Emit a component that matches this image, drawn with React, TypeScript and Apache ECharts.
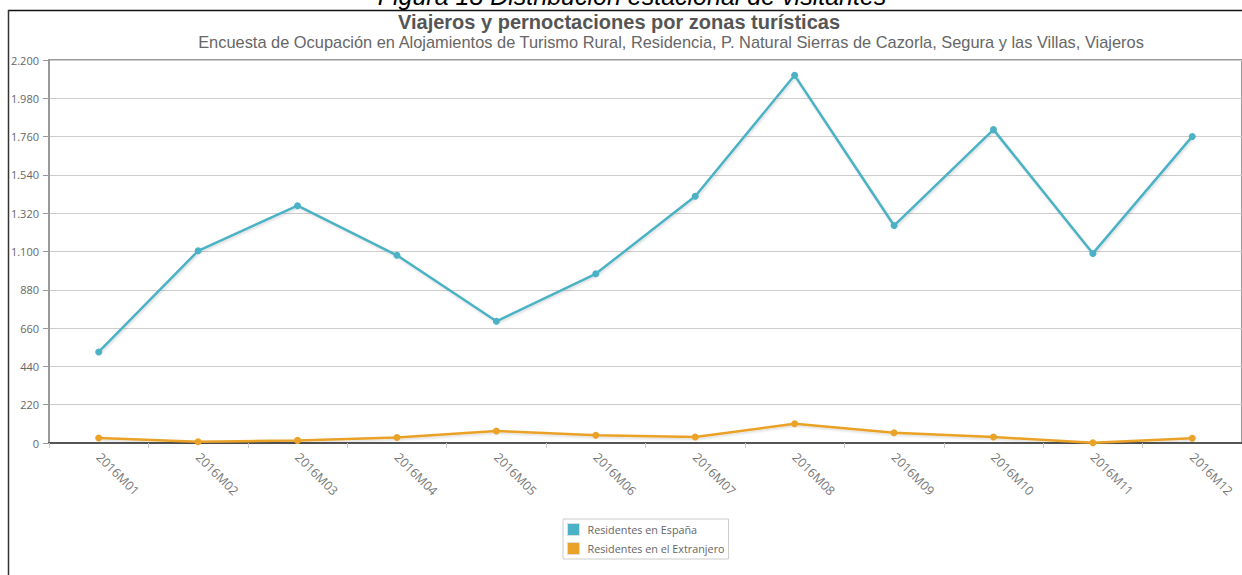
import React, { useEffect, useRef } from "react";
import * as echarts from "echarts";

const categories = [
  "2016M01", "2016M02", "2016M03", "2016M04", "2016M05", "2016M06",
  "2016M07", "2016M08", "2016M09", "2016M10", "2016M11", "2016M12",
];
const residentesEspana = [523, 1104, 1363, 1078, 699, 972, 1417, 2112, 1249, 1800, 1089, 1761];
const residentesExtranjero = [29, 7, 15, 32, 69, 44, 34, 111, 59, 34, 1, 27];
const seriesNames = ["Residentes en España", "Residentes en el Extranjero"];
const seriesColors = ["#4bb2c5", "#EAA228"];
const captionText = "Figura 18 Distribución estacional de visitantes";
const titleText = "Viajeros y pernoctaciones por zonas turísticas";
const subtitleText =
  "Encuesta de Ocupación en Alojamientos de Turismo Rural, Residencia, P. Natural Sierras de Cazorla, Segura y las Villas, Viajeros";

const fmt = (v: number) => String(v).replace(/\B(?=(\d{3})+(?!\d))/g, ".");

export default function App() {
  const ref = useRef<HTMLDivElement>(null);
  useEffect(() => {
    if (!ref.current) return;
    const chart = echarts.init(ref.current, undefined, { renderer: "svg" });
    const lineShadow = {
      shadowColor: "rgba(0,0,0,0.15)",
      shadowBlur: 2,
      shadowOffsetX: 1,
      shadowOffsetY: 1.5,
    };
    chart.setOption({
      animation: false,
      backgroundColor: "#ffffff",
      title: [
        {
          text: titleText,
          left: 614,
          top: 7,
          textAlign: "center",
          textStyle: { fontFamily: "Liberation Sans", fontSize: 20, fontWeight: "bold", color: "#555555" },
        },
        {
          text: subtitleText,
          left: 666,
          top: 29,
          textAlign: "center",
          textStyle: { fontFamily: "Liberation Sans", fontSize: 16.4, fontWeight: "normal", color: "#666666" },
        },
      ],
      legend: {
        orient: "vertical",
        left: 563,
        top: 519,
        padding: [4, 4, 4, 4],
        itemGap: 6,
        itemWidth: 12,
        itemHeight: 12,
        icon: "rect",
        borderColor: "#cccccc",
        borderWidth: 1,
        backgroundColor: "#ffffff",
        itemStyle: { borderColor: "#dddddd", borderWidth: 1 },
        textStyle: { fontFamily: "Open Sans", fontSize: 10.8, color: "#666666", padding: [0, 0, 0, 3] },
        data: seriesNames,
      },
      grid: {
        left: 49,
        top: 60,
        width: 1200,
        height: 383,
        show: true,
        borderColor: "#999999",
        borderWidth: 2,
        backgroundColor: "transparent",
      },
      xAxis: {
        type: "category",
        data: categories,
        boundaryGap: true,
        axisLine: { lineStyle: { color: "#555555", width: 2 } },
        axisTick: { show: true, length: 5, lineStyle: { color: "#cccccc" } },
        axisLabel: {
          rotate: -45,
          margin: 12,
          interval: 0,
          fontFamily: "Open Sans",
          fontSize: 12.5,
          color: "#777777",
        },
        splitLine: { show: false },
      },
      yAxis: {
        type: "value",
        min: 0,
        max: 2200,
        interval: 220,
        axisLine: { show: true, lineStyle: { color: "#999999", width: 2 } },
        axisTick: { show: true, length: 6, lineStyle: { color: "#999999" } },
        axisLabel: {
          margin: 10,
          fontFamily: "Open Sans",
          fontSize: 11,
          color: "#666666",
          formatter: (v: number) => fmt(v),
        },
        splitLine: { show: true, lineStyle: { color: "#cccccc", width: 1 } },
      },
      series: [
        {
          name: seriesNames[0],
          type: "line",
          data: residentesEspana,
          color: seriesColors[0],
          symbol: "circle",
          symbolSize: 7,
          lineStyle: { width: 2.5, ...lineShadow },
          itemStyle: { color: seriesColors[0] },
          z: 3,
        },
        {
          name: seriesNames[1],
          type: "line",
          data: residentesExtranjero,
          color: seriesColors[1],
          symbol: "circle",
          symbolSize: 7,
          lineStyle: { width: 2.5, ...lineShadow },
          itemStyle: { color: seriesColors[1] },
          z: 3,
        },
      ],
      graphic: [
        {
          type: "text",
          x: 632,
          y: 8,
          z: 100,
          style: {
            text: captionText,
            fontFamily: "Liberation Sans",
            fontStyle: "italic",
            fontSize: 25,
            fill: "#000000",
            align: "center",
            verticalAlign: "bottom",
          },
        },
        {
          type: "line",
          z: 100,
          shape: { x1: 8, y1: 10.5, x2: 1242, y2: 10.5 },
          style: { stroke: "#111111", lineWidth: 1.5 },
        },
        {
          type: "line",
          z: 100,
          shape: { x1: 8.5, y1: 10, x2: 8.5, y2: 575 },
          style: { stroke: "#333333", lineWidth: 1.5 },
        },
      ],
    });
    return () => chart.dispose();
  }, []);
  return (
    <div
      ref={ref}
      style={{ position: "absolute", left: 0, top: 0, width: 1242, height: 575 }}
    />
  );
}
